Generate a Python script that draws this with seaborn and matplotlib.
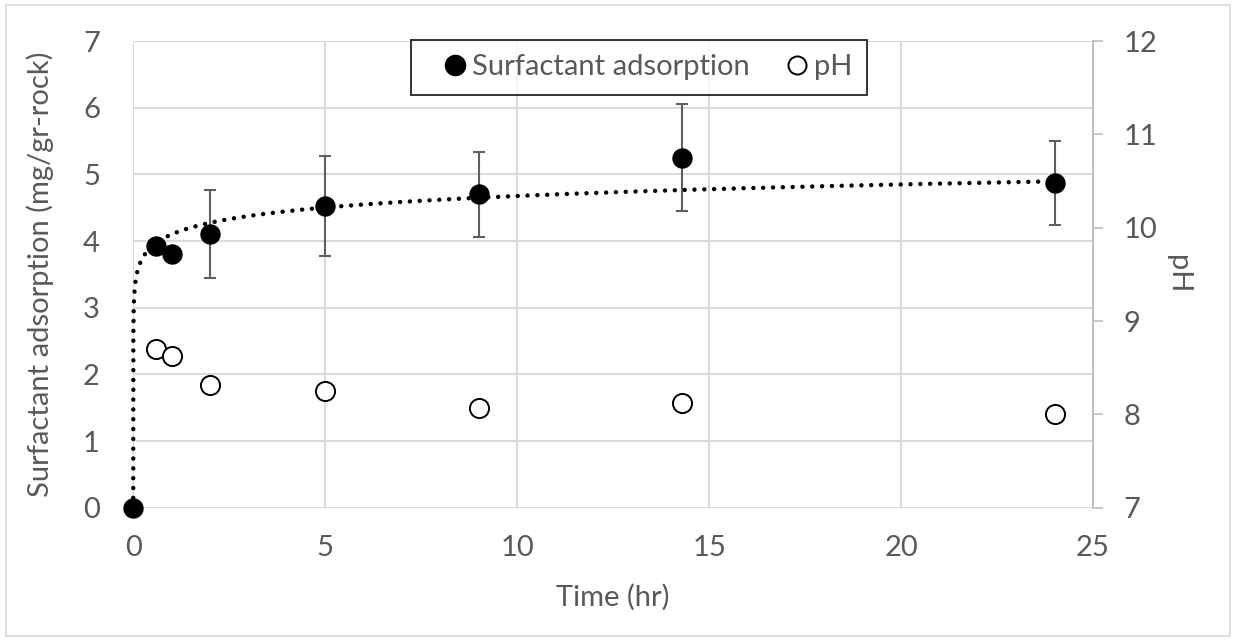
import numpy as np
import pandas as pd
import seaborn as sns
import matplotlib.pyplot as plt
from matplotlib.lines import Line2D
from matplotlib.patches import Rectangle

# values
time_hr = [0, 0.58, 1, 2, 5, 9, 14.3, 24]
adsorption = [0, 3.92, 3.80, 4.10, 4.52, 4.70, 5.25, 4.87]
adsorption_err = [0, 0, 0, 0.66, 0.75, 0.64, 0.80, 0.63]
ph_time = [0.58, 1, 2, 5, 9, 14.3, 24]
ph_values = [8.70, 8.63, 8.31, 8.25, 8.07, 8.12, 8.00]
# log-type (Elovich) trend line coefficients
trend_slope = 0.25
trend_intercept = 4.10

sns.set_theme(style="white")
plt.rcParams['font.family'] = ['Lato', 'DejaVu Sans']
grey_txt = '#595959'
grid_c = '#d9d9d9'
fs = 21

df = pd.DataFrame({'time': time_hr, 'ads': adsorption, 'err': adsorption_err})
df_ph = pd.DataFrame({'time': ph_time, 'ph': ph_values})

fig = plt.figure(figsize=(12.36, 6.41), dpi=100)
fig.patches.append(Rectangle((0.005, 0.008), 0.99, 0.984, transform=fig.transFigure,
                             fill=False, edgecolor=grid_c, lw=1.2))
ax = fig.add_axes([0.1078, 0.208, 0.7765, 0.728])

ax.grid(True, color=grid_c, lw=1.4)
ax.set_axisbelow(True)

# trend line
x0 = np.exp(-trend_intercept / trend_slope)
tx = np.concatenate([[0], np.geomspace(1e-9, max(time_hr), 600)])
ty = trend_slope * np.log1p(tx / x0)
ax.plot(tx, ty, color='black', lw=3.2, linestyle=(0, (0.01, 2.2)),
        dash_capstyle='round', zorder=3, clip_on=False)

ax.errorbar(df['time'], df['ads'], yerr=df['err'], fmt='none', ecolor='#5f5f5f',
            elinewidth=1.5, capsize=4.3, capthick=1.5, zorder=2)
sns.scatterplot(data=df, x='time', y='ads', ax=ax, s=215, color='black',
                edgecolor='black', linewidth=0, zorder=4, legend=False, clip_on=False)

ax.set_xlim(0, 25)
ax.set_ylim(0, 7)
ax.set_xticks(range(0, 26, 5))
ax.set_yticks(range(0, 8))
for s in ['top', 'left', 'bottom', 'right']:
    ax.spines[s].set_visible(False)
ax.tick_params(axis='both', length=0, labelsize=fs, labelcolor=grey_txt)
ax.tick_params(axis='y', pad=24)
ax.tick_params(axis='x', pad=20)
ax.set_xlabel('Time (hr)', fontsize=fs, color=grey_txt, labelpad=16)
ax.set_ylabel('Surfactant adsorption (mg/gr-rock)', fontsize=fs, color=grey_txt, labelpad=21)

ax2 = ax.twinx()
sns.scatterplot(data=df_ph, x='time', y='ph', ax=ax2, s=190, color='white',
                edgecolor='black', linewidth=1.4, zorder=4, legend=False)
ax2.set_ylim(7, 12)
ax2.set_yticks(range(7, 13))
for s in ['top', 'left', 'bottom']:
    ax2.spines[s].set_visible(False)
ax2.spines['right'].set_color('#bfbfbf')
ax2.spines['right'].set_linewidth(1.4)
ax2.tick_params(axis='y', length=7, width=1.2, color='#bfbfbf', labelsize=fs,
                labelcolor=grey_txt, pad=15)
ax2.set_ylabel('pH', fontsize=fs, color=grey_txt, rotation=270, labelpad=24)

handles = [
    Line2D([], [], ls='none', marker='o', ms=14.5, mfc='black', mec='black'),
    Line2D([], [], ls='none', marker='o', ms=13, mfc='white', mec='black', mew=1.4),
]
leg = ax2.legend(handles, ['Surfactant adsorption', 'pH'], loc='upper center',
                 bbox_to_anchor=(0.527, 1.003), ncol=2, frameon=True, fancybox=False,
                 fontsize=fs, borderaxespad=0, handletextpad=-0.4, columnspacing=0.6,
                 handlelength=2.0, borderpad=0.5)
leg.get_frame().set_edgecolor('black')
leg.get_frame().set_linewidth(1.4)
for t in leg.get_texts():
    t.set_color(grey_txt)

fig.savefig('out.png', dpi=100)
